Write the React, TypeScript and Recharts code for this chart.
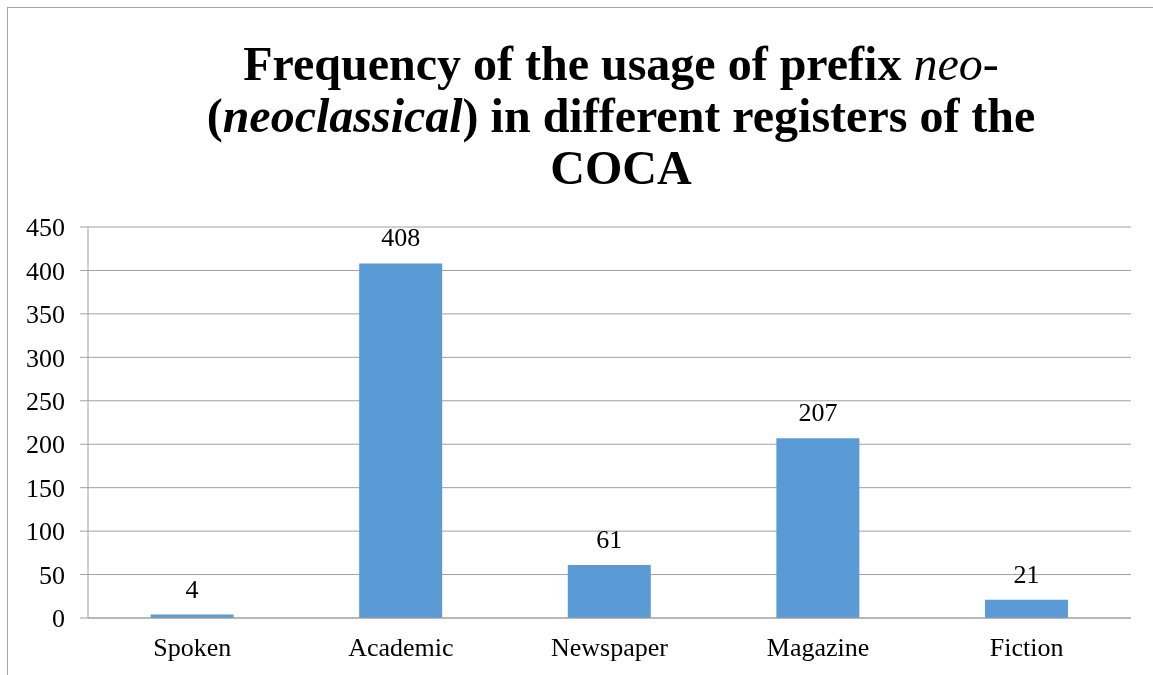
import React from "react";
import { BarChart, Bar, XAxis, YAxis, CartesianGrid, LabelList } from "recharts";

const categories = ["Spoken", "Academic", "Newspaper", "Magazine", "Fiction"];
const values = [4, 408, 61, 207, 21];
const yTicks = [0, 50, 100, 150, 200, 250, 300, 350, 400, 450];
const boundaryTicks = [0, 1, 2, 3, 4, 5];

const data = categories.map((c, i) => ({ name: c, value: values[i] }));

const FONT = "'Liberation Serif', 'Times New Roman', serif";
const GRID = "#a0a0a0";

export default function App() {
  return (
    <div style={{ position: "relative", width: 1145, height: 667, fontFamily: FONT }}>
      <div
        style={{
          position: "fixed",
          left: 7,
          top: 7,
          width: 1200,
          height: 700,
          borderLeft: "1px solid #a6a6a6",
          borderTop: "1px solid #a6a6a6",
          pointerEvents: "none",
        }}
      />
      <div
        style={{
          position: "absolute",
          left: 0,
          top: 30,
          width: 1226,
          textAlign: "center",
          fontSize: 48,
          lineHeight: "52px",
          fontWeight: "bold",
          color: "#000",
        }}
      >
        <div>
          Frequency of the usage of prefix <span style={{ fontStyle: "italic", fontWeight: "normal" }}>neo-</span>
        </div>
        <div>
          (<span style={{ fontStyle: "italic" }}>neoclassical</span>) in different registers of the
        </div>
        <div>COCA</div>
      </div>
      <div style={{ position: "absolute", left: 0, top: 0 }}>
        <BarChart
          width={1145}
          height={667}
          data={data}
          margin={{ top: 219, right: 22, bottom: 17, left: 20 }}
          barCategoryGap="30%"
        >
          <CartesianGrid vertical={false} stroke={GRID} strokeWidth={1} />
          <XAxis
            dataKey="name"
            xAxisId="cat"
            tickLine={false}
            axisLine={{ stroke: GRID }}
            tick={{ fill: "#000", fontSize: 26, fontFamily: FONT }}
            tickMargin={14}
            height={40}
          />
          <XAxis
            xAxisId="bnd"
            type="number"
            domain={[0, 5]}
            ticks={boundaryTicks}
            tick={false}
            axisLine={false}
            tickLine={{ stroke: GRID }}
            tickSize={8}
            height={0}
          />
          <YAxis
            domain={[0, 450]}
            ticks={yTicks}
            interval={0}
            width={60}
            axisLine={{ stroke: GRID }}
            tickLine={{ stroke: GRID }}
            tickSize={8}
            tick={{ fill: "#000", fontSize: 26, fontFamily: FONT }}
            tickMargin={15}
          />
          <Bar dataKey="value" xAxisId="cat" fill="#5B9BD5" isAnimationActive={false} maxBarSize={84}>
            <LabelList dataKey="value" position="top" offset={17} fill="#000" fontSize={26} fontFamily={FONT} />
          </Bar>
        </BarChart>
      </div>
    </div>
  );
}
